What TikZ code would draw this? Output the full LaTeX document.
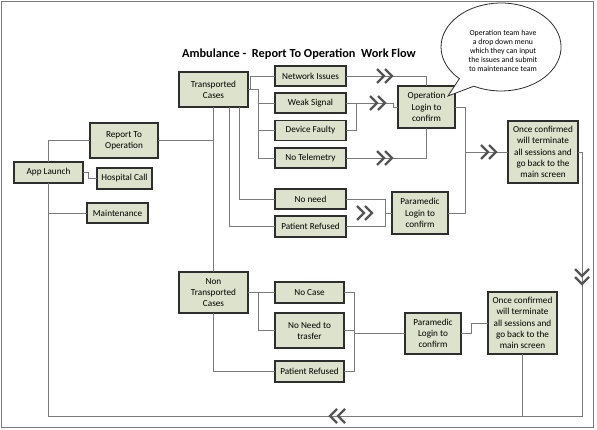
\documentclass[tikz,border=0pt]{standalone}
\usepackage{fontspec}
\setmainfont{Carlito}
\usetikzlibrary{calc}
\usetikzlibrary{positioning}
\definecolor{boxfill}{HTML}{DDE2CC}
\definecolor{boxline}{HTML}{2E2E2E}
\definecolor{wire}{HTML}{7A7A7A}
\definecolor{chevcol}{HTML}{555555}
\tikzset{
	flowbox/.style={draw=boxline, line width=1.3pt, fill=boxfill, inner sep=0pt, outer sep=0pt,
		align=center, font=\fontsize{9.2}{11.2}\selectfont},
	wireline/.style={draw=wire, line width=0.9pt},
	chev/.pic={\draw[chevcol, line width=2.3pt] (-8,-7) -- (-1,0) -- (-8,7) (0,-7) -- (7,0) -- (0,7);}
}
\begin{document}
\begin{tikzpicture}
		[x=1pt, y=-1pt]
		\useasboundingbox (0,0) rectangle (597,430);
		\draw[wire, line width=0.8pt] (1.5,1.5) rectangle (593,427);
		\node[font=\bfseries\fontsize{12.3}{14}\selectfont] (title) at (299,54) {Ambulance -\ \ Report To Operation\ \ Work Flow};
		% left column
		\node[flowbox, minimum width=69pt, minimum height=21pt] (launch) at (48.5,172.5) {App Launch};
		\node[flowbox, minimum width=68pt, minimum height=35pt] (report) at (124,140.5) {Report To\\Operation};
		\node[flowbox, minimum width=55pt, minimum height=21pt] (hosp) at (124.5,178.5) {Hospital Call};
		\node[flowbox, minimum width=61pt, minimum height=20pt] (maint) at (117.5,213) {Maintenance};
		% transported cases
		\node[flowbox, minimum width=69pt, minimum height=35pt] (trans) at (213.5,89.5) {Transported\\Cases};
		\node[flowbox, minimum width=71pt, minimum height=20pt] (net) at (310.5,76) {Network Issues};
		\node[flowbox, minimum width=71pt, minimum height=20pt] (weak) at (310.5,103) {Weak Signal};
		\node[flowbox, minimum width=71pt, minimum height=20pt] (dev) at (310.5,130.5) {Device Faulty};
		\node[flowbox, minimum width=71pt, minimum height=20pt] (tele) at (310.5,158) {No Telemetry};
		\node[flowbox, minimum width=71pt, minimum height=20pt] (noneed) at (310.5,199) {No need};
		\node[flowbox, minimum width=71pt, minimum height=21pt] (refA) at (310.5,226.5) {Patient Refused};
		\node[flowbox, minimum width=57pt, minimum height=42pt] (oplog) at (426.5,107) {Operation\\Login to\\confirm};
		\node[flowbox, minimum width=56pt, minimum height=42pt] (paraA) at (420,213) {Paramedic\\Login to\\confirm};
		\node[flowbox, minimum width=70pt, minimum height=62pt] (onceA) at (543,152) {Once confirmed\\will terminate\\all sessions and\\go back to the\\main screen};
		% non transported cases
		\node[flowbox, minimum width=69pt, minimum height=41pt] (nontr) at (213.5,292.5) {Non\\Transported\\Cases};
		\node[flowbox, minimum width=69pt, minimum height=21pt] (nocase) at (309.5,292.5) {No Case};
		\node[flowbox, minimum width=69pt, minimum height=35pt] (noneedtr) at (309.5,330.5) {No Need to\\trasfer};
		\node[flowbox, minimum width=69pt, minimum height=21pt] (refB) at (309.5,371.5) {Patient Refused};
		\node[flowbox, minimum width=56pt, minimum height=41pt] (paraB) at (433,333.5) {Paramedic\\Login to\\confirm};
		\node[flowbox, minimum width=69pt, minimum height=62pt] (onceB) at (522.5,323) {Once confirmed\\will terminate\\all sessions and\\go back to the\\main screen};
		% speech bubble
		\draw[boxline, line width=0.8pt, fill=white] (473.8,86.2) arc[start angle=117, end angle=-226, x radius=60, y radius=44] -- (448,96) -- cycle;
		\node[align=center, font=\fontsize{7.8}{9}\selectfont] (note) at (503,51) {Operation team have\\a drop down menu\\which they can input\\the issues and submit\\to maintenance team};
		% connectors
		\coordinate (loopR) at (582,416);
		\coordinate (loopL) at (48.5,416);
		\draw[wireline] (launch.north) |- (report.west);
		\draw[wireline] (launch.east) -- ++(5,0) |- (hosp.west);
		\draw[wireline] (launch.south) |- (maint.west);
		\draw[wireline] (onceA.east) -| (loopR) -- (loopL) -- (launch.south);
		\draw[wireline] (onceB.south) -- (onceB.south |- loopL);
		\draw[wireline] (report.east) -- (report.east -| trans.south);
		\draw[wireline] (trans.south) -- (nontr.north);
		\draw[wireline] (trans.east) -- ++(10,0) coordinate (tj) |- (tele.west);
		\draw[wireline] (tj |- weak.west) -- (weak.west);
		\draw[wireline] (tj |- dev.west) -- (dev.west);
		\draw[wireline] ($(trans.east)+(2,0)$) |- (net.west);
		\draw[wireline] ($(trans.south)+(15.5,0)$) |- (refA.west);
		\draw[wireline] ($(trans.south)+(25.5,0)$) |- (noneed.west);
		\draw[wireline] (net.east) -| (oplog.north);
		\draw[wireline] (tele.east) -| (oplog.south);
		\draw[wireline] (weak.east) -- ++(47,0) |- (oplog.west);
		\draw[wireline] (dev.east) -| ($(weak.east)+(10,0)$);
		\draw[wireline] (oplog.east) -- ++(10,0) |- (onceA.west);
		\draw[wireline] (paraA.east) -| ($(oplog.east)+(10,0)$);
		\draw[wireline] (noneed.east) -- ++(39,0) coordinate (pj) |- (refA.east);
		\draw[wireline] (pj |- paraA.west) -- (paraA.west);
		\draw[wireline] (nontr.east) -- (nocase.west);
		\draw[wireline] ($(nontr.east)+(10,0)$) |- (noneedtr.west);
		\draw[wireline] (nontr.south) |- (refB.west);
		\draw[wireline] (nocase.east) -- ++(10,0) coordinate (nj) |- (refB.east);
		\draw[wireline] (noneedtr.east) -- (noneedtr.east -| nj);
		\draw[wireline] (nj |- paraB.west) -- (paraB.west);
		\draw[wireline] (paraB.east) -- ++(10,0) |- (onceB.west);
		% double chevrons
		\pic at (385,76) {chev};
		\pic at (378,103) {chev};
		\pic at (385,158) {chev};
		\pic at (365,213) {chev};
		\pic at (489,152) {chev};
		\pic[rotate=-90] at (582,277) {chev};
		\pic[rotate=180] at (337,416) {chev};
	\end{tikzpicture}
\end{document}
